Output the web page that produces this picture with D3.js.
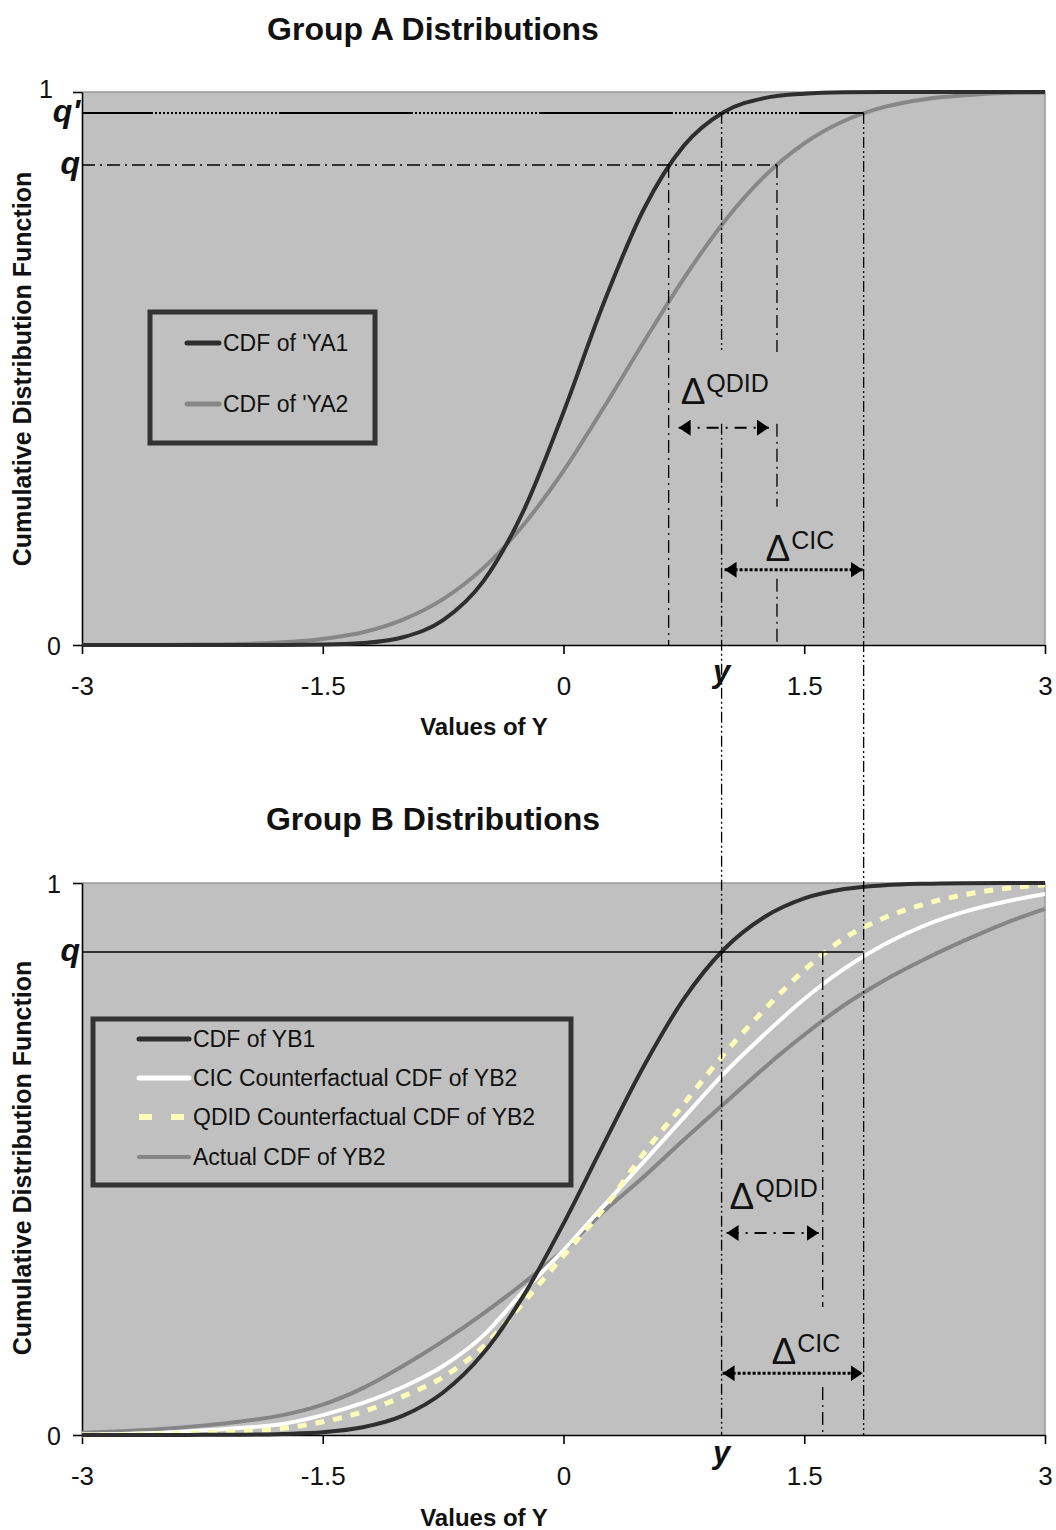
<!DOCTYPE html>
<html>
<head>
<meta charset="utf-8">
<script src="https://cdn.jsdelivr.net/npm/d3@7"></script>
<style>
  body { margin: 0; background: #fff; }
  text { font-family: "Liberation Sans", Arial, sans-serif; fill: #111; }
</style>
</head>
<body>
<svg id="chart" width="1056" height="1530"></svg>
<script>
// values (x grid of the curves and the CDF heights)
const xValues = [-3, -2.75, -2.5, -2.25, -2, -1.75, -1.5, -1.25, -1, -0.75, -0.5, -0.25, 0,
  0.25, 0.5, 0.75, 1, 1.25, 1.5, 1.75, 2, 2.25, 2.5, 2.75, 3];

const cdfYA1 = [0, 0, 0, 0, 0, 0.0001, 0.0007, 0.0035, 0.014, 0.045, 0.115, 0.242, 0.421,
  0.618, 0.788, 0.903, 0.964, 0.989, 0.997, 0.9995, 1, 1, 1, 1, 1];
const cdfYA2 = [0, 0.0001, 0.0002, 0.0007, 0.0019, 0.0048, 0.011, 0.023, 0.046, 0.083, 0.139, 0.217, 0.315,
  0.429, 0.548, 0.663, 0.765, 0.847, 0.907, 0.948, 0.973, 0.987, 0.994, 0.998, 0.999];

const cdfYB1 = [0, 0, 0, 0.0003, 0.0006, 0.002, 0.005, 0.014, 0.035, 0.077, 0.148, 0.252, 0.383,
  0.527, 0.668, 0.79, 0.88, 0.938, 0.972, 0.989, 0.996, 0.9987, 0.9997, 1, 1];
const cdfCIC = [0.001, 0.002, 0.004, 0.008, 0.013, 0.02, 0.036, 0.058, 0.087, 0.125, 0.18, 0.26, 0.335,
  0.415, 0.495, 0.575, 0.655, 0.725, 0.79, 0.845, 0.889, 0.923, 0.948, 0.966, 0.98];
const cdfQDID = [0, 0.001, 0.002, 0.004, 0.007, 0.012, 0.024, 0.042, 0.07, 0.105, 0.16, 0.24, 0.325,
  0.41, 0.51, 0.60, 0.69, 0.77, 0.842, 0.9, 0.937, 0.962, 0.979, 0.99, 0.997];
const cdfYB2 = [0.004, 0.007, 0.011, 0.017, 0.025, 0.036, 0.055, 0.085, 0.125, 0.17, 0.22, 0.275, 0.335,
  0.405, 0.468, 0.535, 0.60, 0.665, 0.725, 0.779, 0.824, 0.862, 0.896, 0.927, 0.953];

const xTicks = [-3, -1.5, 0, 1.5, 3];
const xTickLabels = ["-3", "-1.5", "0", "1.5", "3"];
const yTicks = [0, 1];
const yTickLabels = ["0", "1"];

const legendA = ["CDF of 'YA1", "CDF of 'YA2"];
const legendB = ["CDF of YB1", "CIC Counterfactual CDF of YB2", "QDID Counterfactual CDF of YB2", "Actual CDF of YB2"];

// quantile levels and the y values where the curves reach them
const qTop = [0.962, 0.868];       // q', q
const qBottom = [0.875];           // q
const yStar = 0.985;               // YA1 at q'  (= YB1 at q)
const ya1AtQ = 0.655;
const ya2AtQ = 1.33;
const ya2AtQp = 1.87;              // also the CIC value in group B
const qdidAtQ = 1.615;

const svg = d3.select("#chart");
const x = d3.scaleLinear().domain([-3, 3]).range([82, 1045]);
const yTop = d3.scaleLinear().domain([0, 1]).range([645, 92]);
const yBot = d3.scaleLinear().domain([0, 1]).range([1435, 883]);

// arrowhead
const defs = svg.append("defs");
defs.append("marker")
  .attr("id", "head")
  .attr("viewBox", "0 0 12 16")
  .attr("markerUnits", "userSpaceOnUse")
  .attr("markerWidth", 12).attr("markerHeight", 16)
  .attr("refX", 12).attr("refY", 8)
  .attr("orient", "auto-start-reverse")
  .append("path").attr("d", "M0,0 L12,8 L0,16 Z").attr("fill", "#000");

function drawPanel(y, title, titleY, xTitleY, yTitleY, tightTop) {
  const g = svg.append("g");
  g.append("rect")
    .attr("x", x(-3)).attr("y", y(1))
    .attr("width", x(3) - x(-3)).attr("height", y(0) - y(1))
    .attr("fill", "#c0c0c0");
  g.append("path")
    .attr("d", `M${x(-3)},${y(1)} H${x(3)} V${y(0)}`)
    .attr("fill", "none").attr("stroke", "#9a9a9a").attr("stroke-width", 1.5);

  const xa = g.append("g")
    .attr("transform", `translate(0,${y(0)})`)
    .call(d3.axisBottom(x).tickValues(xTicks).tickSize(9).tickSizeOuter(0)
      .tickFormat((d, i) => xTickLabels[i]));
  xa.selectAll("text").attr("y", 32).style("font-size", "26px")
    .style("font-family", "'Liberation Sans', Arial, sans-serif").attr("fill", "#111");

  const ya = g.append("g")
    .attr("transform", `translate(${x(-3)},0)`)
    .call(d3.axisLeft(y).tickValues(yTicks).tickSize(9).tickSizeOuter(0)
      .tickFormat((d, i) => yTickLabels[i]));
  ya.selectAll("text").attr("x", -21).attr("dy", "0.36em").style("font-size", "25px")
    .style("font-family", "'Liberation Sans', Arial, sans-serif").attr("fill", "#111");
  // the "1" sits right above the q' label in group A
  if (tightTop) ya.selectAll("text").filter(d => d === 1).attr("x", -29).attr("dy", "0.2em");
  g.selectAll(".domain, .tick line").attr("stroke", "#000").attr("stroke-width", 1.6);

  g.append("text").attr("x", 433).attr("y", titleY).attr("text-anchor", "middle")
    .style("font-size", "32px").style("font-weight", "bold").text(title);
  g.append("text").attr("x", 484).attr("y", xTitleY).attr("text-anchor", "middle")
    .style("font-size", "24px").style("font-weight", "bold").text("Values of Y");
  g.append("text").attr("transform", `translate(31,${yTitleY}) rotate(-90)`)
    .attr("text-anchor", "middle")
    .style("font-size", "25px").style("font-weight", "bold").text("Cumulative Distribution Function");
  return g;
}

function curve(g, y, values, color, width, dash) {
  const line = d3.line()
    .x((d, i) => x(xValues[i]))
    .y(d => y(d))
    .curve(d3.curveMonotoneX);
  g.append("path").attr("d", line(values))
    .attr("fill", "none").attr("stroke", color).attr("stroke-width", width)
    .attr("stroke-dasharray", dash || null).attr("stroke-linecap", "butt");
}

function legend(g, names, styles, box, x0, rowY) {
  g.append("rect").attr("x", box[0]).attr("y", box[1]).attr("width", box[2]).attr("height", box[3])
    .attr("fill", "#c0c0c0").attr("stroke", "#333").attr("stroke-width", 5);
  names.forEach((n, i) => {
    const s = styles[i];
    g.append("line").attr("x1", x0[0]).attr("x2", x0[1]).attr("y1", rowY[i]).attr("y2", rowY[i])
      .attr("stroke", s.color).attr("stroke-width", s.width)
      .attr("stroke-linecap", s.dash ? "butt" : "round")
      .attr("stroke-dasharray", s.dash || null);
    g.append("text").attr("x", x0[1] + 4).attr("y", rowY[i]).attr("dy", "0.36em")
      .style("font-size", "23px").text(n);
  });
}

function vline(xv, y1, y2, dash, w) {
  return svg.append("line").attr("x1", x(xv)).attr("x2", x(xv)).attr("y1", y1).attr("y2", y2)
    .attr("stroke", "#000").attr("stroke-width", w || 1.3).attr("stroke-dasharray", dash);
}
function hline(xv, yv, dash, w) {
  return svg.append("line").attr("x1", x(-3)).attr("x2", x(xv)).attr("y1", yv).attr("y2", yv)
    .attr("stroke", "#000").attr("stroke-width", w || 1.4).attr("stroke-dasharray", dash);
}
function arrow(xa, xb, yv, dash, w) {
  svg.append("line").attr("x1", xa).attr("x2", xb).attr("y1", yv).attr("y2", yv)
    .attr("stroke", "#000").attr("stroke-width", w).attr("stroke-dasharray", dash)
    .attr("marker-start", "url(#head)").attr("marker-end", "url(#head)");
}
function delta(xv, yv, sup) {
  const t = svg.append("text").attr("x", xv).attr("y", yv);
  t.append("tspan").style("font-size", "37px").text("\u0394");
  t.append("tspan").attr("dy", -12).attr("dx", 1).style("font-size", "25px").text(sup);
}
function qLabel(yv, txt) {
  svg.append("text").attr("x", 80).attr("y", yv + 9).attr("text-anchor", "end")
    .style("font-size", "32px").style("font-weight", "bold").style("font-style", "italic").text(txt);
}
function yLabel(yv) {
  svg.append("text").attr("x", x(yStar)).attr("y", yv).attr("text-anchor", "middle")
    .style("font-size", "31px").style("font-weight", "bold").style("font-style", "italic").text("y");
}

const dashDot = "13,5,2,5";
const dashDotDot = "11,3,2,3,2,3";
const qpDash = [134, 2];
for (let i = 0; i < 31; i++) qpDash.push(2, 2);

// ---- Group A
const gA = drawPanel(yTop, "Group A Distributions", 40, 735, 369, true);
curve(gA, yTop, cdfYA2, "#878787", 4);
curve(gA, yTop, cdfYA1, "#2e2e2e", 4);
legend(gA, legendA,
  [{ color: "#2e2e2e", width: 5 }, { color: "#878787", width: 5 }],
  [150, 312, 225, 131], [187, 219], [343, 404]);

// ---- Group B
const gB = drawPanel(yBot, "Group B Distributions", 830, 1526, 1158, false);
curve(gB, yBot, cdfYB2, "#858585", 4);
curve(gB, yBot, cdfCIC, "#ffffff", 4);
curve(gB, yBot, cdfQDID, "#fdfcb8", 5, "9,9");
curve(gB, yBot, cdfYB1, "#2e2e2e", 4);
legend(gB, legendB,
  [{ color: "#2e2e2e", width: 5 }, { color: "#ffffff", width: 5 },
   { color: "#fdfcb8", width: 6, dash: "13,19" }, { color: "#858585", width: 4 }],
  [93, 1019, 478, 166], [139, 189], [1039, 1078, 1117, 1157]);

// ---- quantile lines, group A
hline(ya2AtQp, yTop(qTop[0]), qpDash.join(","), 1.8).attr("stroke-dashoffset", 63);
hline(ya2AtQ, yTop(qTop[1]), dashDot, 1.5);
qLabel(yTop(qTop[0]), "q'");
qLabel(yTop(qTop[1]), "q");

vline(ya1AtQ, yTop(qTop[1]), yTop(0), dashDot);
vline(ya2AtQ, yTop(qTop[1]), yTop(0.53), dashDot);
vline(ya2AtQ, yTop(0.40), yTop(0.25), dashDot);
vline(ya2AtQ, yTop(0.12), yTop(0), dashDot);
vline(yStar, yTop(qTop[0]), yTop(0.53), dashDotDot);
vline(yStar, yTop(0.40), yBot(0), dashDotDot);
vline(ya2AtQp, yTop(qTop[0]), yBot(0), dashDotDot);

arrow(x(ya1AtQ) + 10, x(ya2AtQ) - 8, yTop(0.393), "12,7,2,7", 2);
arrow(x(yStar) + 3, x(ya2AtQp) - 1, yTop(0.136), "3,2", 3);
delta(x(ya1AtQ) + 12, 404, "QDID");
delta(x(yStar) + 44, 561, "CIC");
yLabel(682);

// ---- group B
hline(ya2AtQp, yBot(qBottom[0]), null, 1.3);
qLabel(yBot(qBottom[0]), "q");
vline(qdidAtQ, yBot(qBottom[0]), yBot(0.232), dashDot);
vline(qdidAtQ, yBot(0.087), yBot(0), dashDot);
arrow(x(yStar) + 5, x(qdidAtQ) - 4, yBot(0.366), "12,7,2,7", 2);
arrow(x(yStar) + 1, x(ya2AtQp) - 1, yBot(0.112), "3,2", 3);
delta(x(yStar) + 8, 1209, "QDID");
delta(x(yStar) + 50, 1364, "CIC");
yLabel(1463);
</script>
</body>
</html>
